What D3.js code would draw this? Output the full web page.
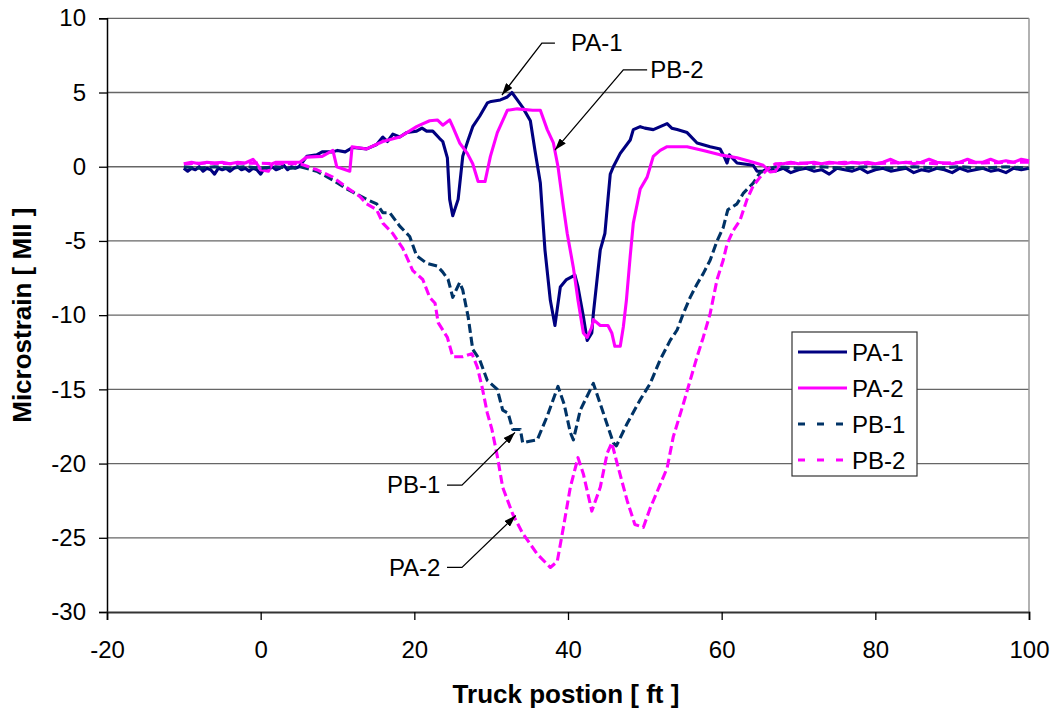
<!DOCTYPE html>
<html>
<head>
<meta charset="utf-8">
<script src="https://cdn.jsdelivr.net/npm/d3@7/dist/d3.min.js"></script>
<style>
  html, body { margin: 0; padding: 0; background: #fff; }
  svg { display: block; font-family: "Liberation Sans", Arial, sans-serif; }
</style>
</head>
<body>
<svg id="chart" width="1056" height="713"></svg>
<script>
// Strain gauge readings versus truck position
const xTicks = [-20, 0, 20, 40, 60, 80, 100];
const yTicks = [-30, -25, -20, -15, -10, -5, 0, 5, 10];
const seriesNames = ["PA-1", "PA-2", "PB-1", "PB-2"];

// [truck position (ft), microstrain]
const pa1 = [
  [-10,-0.1],[-9.5,-0.3],[-9,-0.1],[-8.5,-0.2],[-8,0.0],[-7.5,-0.3],[-7,-0.1],[-6.5,-0.2],[-6,-0.5],[-5.5,-0.1],
  [-5,-0.2],[-4.5,-0.1],[-4,-0.3],[-3.5,-0.1],[-3,0.0],[-2.5,-0.2],[-2,-0.1],[-1.5,-0.3],[-1,-0.1],[-0.5,-0.2],
  [0,-0.5],[0.5,-0.1],[1,-0.2],[1.5,0.0],[2,-0.2],[2.5,-0.1],[3,0.1],[3.5,-0.2],[4,0.0],[4.5,-0.1],[5,0.0],
  [6.0,0.7],[7.3,0.8],[8,1.0],[9.4,1.0],[10,1.1],[11,1.0],[12,1.3],[13.8,1.2],[15.1,1.5],[15.9,2.0],[16.5,1.7],
  [17.2,2.2],[18.1,2.0],[19,2.3],[20.3,2.4],[21,2.6],[21.6,2.4],[22.4,2.4],[23.3,1.9],[23.7,1.7],[24.3,0.6],
  [24.6,-2.2],[25.0,-3.3],[25.7,-2.2],[26.3,0.7],[27,1.8],[27.6,2.7],[28.5,3.4],[29.5,4.3],[30,4.4],[31.2,4.5],
  [32.1,4.7],[32.7,5.0],[33.4,4.5],[34.1,4.0],[35.1,3.1],[35.7,1.1],[36.4,-1.1],[37,-5.6],[37.7,-9.0],[38.3,-10.7],
  [39.0,-8.1],[39.8,-7.6],[40.9,-7.3],[41.3,-8.1],[42.0,-10.1],[42.5,-11.7],[43.1,-11.2],[43.3,-9.9],[44.2,-5.6],
  [44.8,-4.5],[45.2,-2.2],[45.5,-0.5],[45.9,0.0],[46.8,0.9],[48.1,1.8],[48.5,2.5],[49.4,2.7],[50,2.6],[51.1,2.5],
  [52,2.7],[52.9,2.9],[53.5,2.6],[54.2,2.5],[55.5,2.3],[56.8,1.6],[58.5,1.35],[59.8,1.2],[60.4,0.6],[60.7,0.25],
  [61,0.8],[62,0.25],[64.1,0.1],[64.6,-0.3],[65.4,-0.3],[66,-0.1],[67,-0.3],
  [68,-0.1],[69,-0.4],[70,-0.2],[71,-0.1],[72,-0.3],[73,-0.2],[74,-0.5],[75,-0.1],[76,-0.2],[77,-0.3],[78,-0.1],
  [79,-0.4],[80,-0.2],[81,-0.1],[82,-0.3],[83,-0.2],[84,-0.1],[85,-0.4],[86,-0.2],[87,-0.3],[88,-0.1],[89,-0.2],
  [90,-0.4],[91,-0.1],[92,-0.3],[93,-0.2],[94,-0.1],[95,-0.3],[96,-0.2],[97,-0.4],[98,-0.1],[99,-0.2],[100,-0.1]
];
const pa2 = [
  [-10,0.2],[-9,0.3],[-8,0.2],[-7,0.3],[-6,0.25],[-5,0.3],[-4,0.2],[-3,0.3],[-2,0.25],[-1,0.5],[-0.5,0.2],
  [0,-0.2],[1,-0.3],[1.5,0.2],[2,0.3],[3,0.3],[4,0.3],[5.1,0.3],[6,0.65],[8,0.7],[9.4,1.1],[9.9,0.0],[11.6,-0.3],
  [11.9,1.35],[13.8,1.2],[15.9,1.7],[18.1,2.0],[20.3,2.7],[20.7,2.8],[22,3.1],[23,3.15],[23.7,2.8],[24.6,3.15],
  [25,2.7],[25.9,1.6],[26.9,0.9],[27.6,0.2],[28.3,-1.0],[29.2,-1.0],[29.9,0.7],[30.8,2.3],[32.1,3.8],[33.4,3.9],
  [35.4,3.8],[36.4,3.8],[37.3,2.5],[38.1,1.6],[38.7,0.0],[39.4,-2.7],[39.9,-4.5],[40.7,-6.8],[41.3,-9.0],
  [42.0,-11.2],[42.5,-11.5],[43.1,-10.8],[43.3,-10.3],[44.2,-10.7],[45.2,-10.7],[45.7,-11.2],[46.1,-12.1],
  [46.8,-12.1],[47.2,-10.8],[47.6,-9.0],[48.1,-6.0],[48.5,-3.8],[49.4,-1.5],[50.3,-0.7],[50.7,0.0],[51.1,0.7],
  [52.0,1.1],[52.9,1.35],[55.5,1.35],[57.6,1.1],[59.8,0.8],[62,0.6],[64.1,0.3],[65.4,0.1],[66.3,-0.35],[67,-0.3],
  [67.6,0.2],[68,0.2],[69,0.3],[70,0.2],[71,0.25],[72,0.3],[73,0.2],[74,0.3],[75,0.25],[76,0.2],[77,0.3],[78,0.25],
  [79,0.3],[80,0.2],[81,0.3],[82,0.5],[83,0.25],[84,0.3],[85,0.2],[86,0.3],[87,0.5],[88,0.3],[89,0.25],[90,0.2],
  [91,0.3],[92,0.5],[93,0.3],[94,0.3],[95,0.5],[96,0.3],[97,0.4],[98,0.3],[99,0.5],[100,0.4]
];
const pb1 = [
  [-10,0.0],[-8,-0.1],[-6,0.0],[-4,-0.1],[-2,0.0],[0,-0.1],[2,0.0],[4,-0.1],[5.1,0.0],[7.3,-0.3],[9.4,-0.9],
  [11.2,-1.5],[13.8,-2.2],[15.1,-2.5],[15.9,-3.1],[16.8,-3.1],[18.1,-4.0],[19.4,-4.7],[20.3,-6.0],[21.6,-6.5],
  [23.0,-6.7],[23.7,-7.1],[24.4,-7.6],[25.0,-8.8],[25.9,-7.8],[26.3,-8.3],[27.0,-10.1],[27.6,-12.3],[28.5,-13.0],
  [29.5,-14.4],[30.8,-15.0],[31.5,-16.4],[32.2,-16.6],[32.8,-17.7],[33.8,-17.7],[34.1,-18.6],[35,-18.5],
  [36.0,-18.4],[37.3,-16.8],[38.7,-14.8],[39.5,-16.0],[40.3,-17.9],[40.7,-18.4],[41.6,-16.4],[43.3,-14.6],
  [44.6,-16.6],[45.9,-18.6],[46.3,-18.8],[47.7,-17.3],[49.4,-15.7],[50.7,-14.6],[52.0,-13.0],[53.3,-11.7],
  [54.2,-11.0],[55.0,-9.9],[55.9,-8.8],[56.8,-7.9],[57.6,-7.2],[58.5,-6.3],[59.4,-5.0],[60.2,-4.1],[60.8,-2.9],
  [62.0,-2.5],[62.8,-1.8],[64.1,-1.1],[65.0,-0.4],[65.9,-0.2],[67,0.0],[70,-0.1],[73,0.0],[76,-0.1],[79,0.0],
  [82,-0.1],[85,0.0],[88,-0.1],[91,0.0],[94,-0.1],[97,0.0],[100,-0.1]
];
const pb2 = [
  [-10,0.2],[-7,0.25],[-4,0.2],[-1,0.25],[2,0.2],[5.1,0.2],[7.3,-0.2],[9.4,-0.7],[11.2,-1.4],[12.9,-2.0],
  [13.8,-2.5],[15.1,-2.9],[15.9,-3.8],[17.2,-4.5],[18.5,-5.5],[19.8,-7.0],[21.1,-7.6],[22.0,-8.8],[22.7,-9.2],
  [23.1,-10.5],[24.3,-11.5],[25.0,-12.8],[26.3,-12.8],[27.5,-12.6],[28.2,-13.5],[28.8,-14.8],[29.5,-16.6],
  [30.1,-17.7],[30.8,-19.5],[31.5,-21.6],[32.8,-23.4],[34.1,-24.7],[36.0,-26.1],[37.7,-27.0],[38.6,-26.6],
  [39.4,-24.3],[40.3,-21.6],[41.3,-19.6],[42.0,-20.7],[43.1,-23.2],[44.2,-21.6],[45.1,-19.3],[45.7,-18.6],
  [46.4,-20.0],[47.7,-22.5],[48.7,-24.1],[49.8,-24.3],[50.7,-23.0],[52.9,-20.3],[53.7,-18.2],[55.0,-16.0],
  [55.9,-14.4],[56.8,-12.8],[57.6,-11.5],[58.5,-9.9],[59.4,-7.6],[60.2,-6.3],[60.7,-5.2],[61.5,-4.3],[62.4,-3.6],
  [63.3,-2.2],[64.1,-1.3],[65.0,-0.7],[65.9,-0.2],[67,0.2],[70,0.25],[73,0.2],[76,0.3],[79,0.2],[82,0.25],
  [85,0.3],[88,0.2],[91,0.3],[94,0.25],[97,0.3],[100,0.3]
];

const seriesData = [pa1, pa2, pb1, pb2];
const seriesColors = ["#000080", "#FF00FF", "#003366", "#FF00FF"];
const seriesDash = [null, null, "9,4", "9,4"];

// Callout labels: text, leader end, elbow, arrow tip, label anchor (data units)
const callouts = [
  { text: "PA-1", side: "right", start: [36.6, 8.33], end: [38.3, 8.33], tip: [31.4, 4.83], label: [40.4, 8.33] },
  { text: "PB-2", side: "right", start: [47.2, 6.52], end: [50.3, 6.52], tip: [38.3, 1.12], label: [50.7, 6.52] },
  { text: "PB-1", side: "left",  start: [26.2, -21.45], end: [24.25, -21.45], tip: [33.1, -17.9], label: [23.4, -21.45] },
  { text: "PA-2", side: "left",  start: [26.2, -27.0], end: [24.25, -27.0], tip: [33.2, -23.5], label: [23.4, -27.0] }
];

const svg = d3.select("#chart");
const plotLeft = 107, plotRight = 1029, plotTop = 18.3, plotBottom = 612;

const x = d3.scaleLinear().domain([-20, 100]).range([plotLeft, plotRight]);
const y = d3.scaleLinear().domain([-30, 10]).range([plotBottom, plotTop]);

// plain hyphen-minus tick labels
const tickText = d => String(d);

// horizontal gridlines
svg.append("g")
  .selectAll("line")
  .data(yTicks.filter(v => v > -30))
  .join("line")
  .attr("x1", plotLeft).attr("x2", plotRight)
  .attr("y1", d => y(d)).attr("y2", d => y(d))
  .attr("stroke", "#666").attr("stroke-width", 1.3);

// right border of plot area
svg.append("line")
  .attr("x1", plotRight).attr("x2", plotRight).attr("y1", plotTop).attr("y2", plotBottom)
  .attr("stroke", "#999").attr("stroke-width", 1.5);

// series lines
const line = d3.line().x(d => x(d[0])).y(d => y(d[1]));
svg.append("g")
  .selectAll("path")
  .data(seriesData)
  .join("path")
  .attr("d", d => line(d))
  .attr("fill", "none")
  .attr("stroke", (d, i) => seriesColors[i])
  .attr("stroke-width", 3.1)
  .attr("stroke-linejoin", "round")
  .attr("stroke-dasharray", (d, i) => seriesDash[i]);

// axes
const yAxis = svg.append("g")
  .attr("transform", `translate(${plotLeft},0)`)
  .call(d3.axisLeft(y).tickValues(yTicks).tickSize(8).tickPadding(13).tickFormat(tickText));
const xAxis = svg.append("g")
  .attr("transform", `translate(0,${plotBottom})`)
  .call(d3.axisBottom(x).tickValues(xTicks).tickSize(8).tickPadding(21).tickFormat(tickText));

[yAxis, xAxis].forEach(g => {
  g.selectAll("text").attr("font-size", 24).attr("fill", "#000")
    .attr("font-family", "'Liberation Sans', Arial, sans-serif");
  g.selectAll(".tick line").attr("stroke", "#000").attr("stroke-width", 1.3);
});
yAxis.select(".domain").attr("stroke", "#000").attr("stroke-width", 1.5);
xAxis.select(".domain").attr("stroke", "#333").attr("stroke-width", 1.8);
xAxis.selectAll("text").attr("dy", "0.71em");

// axis titles
svg.append("text")
  .attr("x", (plotLeft + plotRight) / 2 - 2).attr("y", 703)
  .attr("text-anchor", "middle")
  .attr("font-size", 26).attr("font-weight", "bold")
  .text("Truck postion [ ft ]");
svg.append("text")
  .attr("transform", `translate(31,${(plotTop + plotBottom) / 2}) rotate(-90)`)
  .attr("text-anchor", "middle")
  .attr("font-size", 26).attr("font-weight", "bold")
  .text("Microstrain [ MII ]");

// arrowhead marker
svg.append("defs").append("marker")
  .attr("id", "arrow")
  .attr("viewBox", "0 0 12 8")
  .attr("refX", 12).attr("refY", 4)
  .attr("markerWidth", 12).attr("markerHeight", 8)
  .attr("markerUnits", "userSpaceOnUse")
  .attr("orient", "auto")
  .append("path").attr("d", "M0,0 L12,4 L0,8 Z").attr("fill", "#000");

// callouts
const cg = svg.append("g");
callouts.forEach(c => {
  const pts = [c.end, c.start, c.tip].map(p => [x(p[0]), y(p[1])]);
  cg.append("path")
    .attr("d", d3.line()(pts))
    .attr("fill", "none").attr("stroke", "#000").attr("stroke-width", 1.3)
    .attr("marker-end", "url(#arrow)");
  cg.append("text")
    .attr("x", x(c.label[0])).attr("y", y(c.label[1]))
    .attr("dy", "0.35em")
    .attr("text-anchor", c.side === "right" ? "start" : "end")
    .attr("font-size", 24)
    .text(c.text);
});

// legend
const lg = svg.append("g").attr("transform", "translate(792,332)");
lg.append("rect").attr("width", 125).attr("height", 144)
  .attr("fill", "#fff").attr("stroke", "#333").attr("stroke-width", 1.2);
seriesNames.forEach((name, i) => {
  const cy = 20 + i * 36;
  lg.append("line")
    .attr("x1", 6).attr("x2", 55).attr("y1", cy).attr("y2", cy)
    .attr("stroke", seriesColors[i]).attr("stroke-width", 3)
    .attr("stroke-dasharray", seriesDash[i] ? "7,12" : null);
  lg.append("text")
    .attr("x", 60).attr("y", cy).attr("dy", "0.36em")
    .attr("font-size", 24)
    .text(name);
});
</script>
</body>
</html>
